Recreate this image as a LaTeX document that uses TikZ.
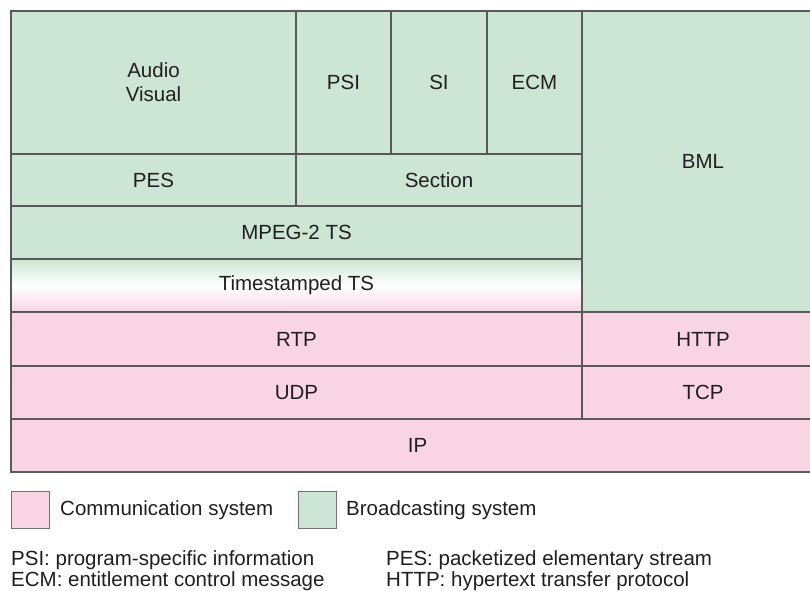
\documentclass[tikz,border=0pt]{standalone}
\usepackage{fontspec}
\setmainfont{Liberation Sans}
\definecolor{bcast}{RGB}{204,229,212}
\definecolor{comm}{RGB}{249,213,228}

\begin{document}
\begin{tikzpicture} [
                x=1pt, y=-1pt,
                layer/.style = {draw=black!65, line width=1.1pt},
                bcast layer/.style = {layer, fill=bcast},
                comm layer/.style = {layer, fill=comm},
                mixed layer/.style = {layer, top color=bcast, bottom color=comm, middle color=white},
                lbl/.style = {font=\fontsize{20.5}{24}\selectfont, text=black!88, align=center},
                key/.style = {draw=black!55, line width=0.8pt},
                note/.style = {lbl, anchor=west, inner sep=0pt},
            ]
            \useasboundingbox (0,0) rectangle (810,590);
            % broadcasting layers
            \foreach \x/\y/\X/\Y/\name/\txt in {
            {11/11/296/154/av/{Audio\\Visual}}, {296/11/391/154/psi/PSI},
            {391/11/487/154/si/SI}, {487/11/582/154/ecm/ECM},
            {582/11/824/312/bml/BML}, {11/154/296/206/pes/PES},
            {296/154/582/206/sect/Section}, {11/206/582/259/mpeg/MPEG-2 TS}}
                \draw[bcast layer] (\x,\y) rectangle (\X,\Y) node[lbl, midway] (\name) {\txt};
            \draw[mixed layer] (11,259) rectangle (582,312) node[lbl, midway] (tts) {Timestamped TS};
            % communication layers
            \foreach \x/\y/\X/\Y/\name/\txt in {
            {11/312/582/366/rtp/RTP}, {582/312/824/366/http/HTTP},
            {11/366/582/419/udp/UDP}, {582/366/824/419/tcp/TCP},
            {11/419/824/472/ip/IP}}
                \draw[comm layer] (\x,\y) rectangle (\X,\Y) node[lbl, midway] (\name) {\txt};
            % legend
            \draw[key, fill=comm] (11,491) rectangle (49,528);
            \node[note] (commkey) at (60,510) {Communication system};
            \draw[key, fill=bcast] (298,491) rectangle (336,528);
            \node[note] (bcastkey) at (346,510) {Broadcasting system};
            % abbreviations
            \foreach \pos/\name/\txt in {
            {(11,560)/npsi/PSI: program-specific information},
            {(11,581)/necm/ECM: entitlement control message},
            {(386,560)/npes/PES: packetized elementary stream},
            {(386,581)/nhttp/HTTP: hypertext transfer protocol}}
                \node[note] (\name) at \pos {\txt};
        \end{tikzpicture}
\end{document}
